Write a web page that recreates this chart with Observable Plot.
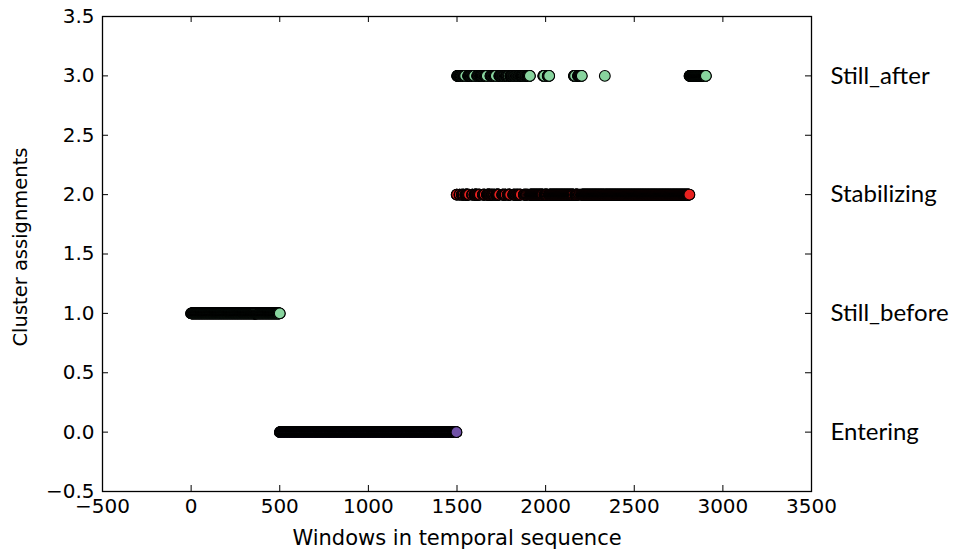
<!DOCTYPE html>
<html><head><meta charset="utf-8">
<script src="https://cdn.jsdelivr.net/npm/d3@7"></script>
<script src="https://cdn.jsdelivr.net/npm/@observablehq/plot@0.6"></script>
<style>body{margin:0;background:#fff}</style>
</head><body><div id="chart"></div>
<script>
// ---- data ----
const clusterIds = [0, 1, 2, 3];
const clusterNames = ["Entering", "Still_before", "Stabilizing", "Still_after"];
const xTicks = [-500, 0, 500, 1000, 1500, 2000, 2500, 3000, 3500];
const yTicks = [-0.5, 0, 0.5, 1, 1.5, 2, 2.5, 3, 3.5];
// run-length encoded cluster assignment per window: run i covers runStart[i] .. runStart[i+1]-1
const runStart = [0,501,1498,1501,1514,1517,1527,1531,1535,1539,1547,1563,1567,1569,1585,1589,1598,1614,1618,1622,1626,1630,1646,1650,1654,1658,1669,1689,1693,1697,1701,1705,1709,1713,1720,1739,1755,1759,1763,1767,1771,1776,1786,1790,1794,1801,1817,1821,1825,1829,1833,1837,1841,1845,1849,1853,1857,1861,1877,1881,1885,1889,1893,1897,1901,1902,1906,1907,1912,1987,1993,2012,2017,2018,2021,2160,2167,2183,2187,2188,2191,2192,2195,2196,2199,2200,2203,2204,2205,2334,2335,2812];
const runCluster = [1,0,2,3,2,3,2,3,2,3,2,3,2,3,2,3,2,3,2,3,2,3,2,3,2,3,2,3,2,3,2,3,2,3,2,3,2,3,2,3,2,3,2,3,2,3,2,3,2,3,2,3,2,3,2,3,2,3,2,3,2,3,2,3,2,3,2,3,2,3,2,3,2,3,2,3,2,3,2,3,2,3,2,3,2,3,2,3,2,3,2,3];
const lastWindow = 2904;

// ---- styling ----
const clusterFill = ["#7152a8", "#88d49e", "#e8211f", "#88d49e"];

// decode runs into one record per window
const points = [];
runStart.forEach((s, i) => {
  const e = i + 1 < runStart.length ? runStart[i + 1] - 1 : lastWindow;
  for (let w = s; w <= e; w++) points.push({w, c: runCluster[i]});
});

const W = 953, H = 555, mL = 102, mR = 142, mT = 16, mB = 64;
const innerW = W - mL - mR, innerH = H - mT - mB, tk = 6;
const labelFont = "Lato";
const axisFont = "DejaVu Sans";
const fmtX = d3.format("d"), fmtY = d3.format(".1f");

const chart = Plot.plot({
  width: W, height: H,
  marginLeft: mL, marginRight: mR, marginTop: mT, marginBottom: mB,
  style: {fontFamily: axisFont, fontSize: "20px", color: "#000", background: "#fff", overflow: "visible"},
  x: {domain: [-500, 3500], axis: null},
  y: {domain: [-0.5, 3.5], axis: null},
  marks: [
    ...clusterIds.map(k => Plot.dot(points.filter(p => p.c === k), {x: "w", y: "c", r: 5.4, fill: clusterFill[k], stroke: "#000", strokeWidth: 1.1})),
    Plot.frame({stroke: "#000", strokeWidth: 1.3}),
    Plot.tickX(xTicks, {x: d => d, stroke: "#000", insetTop: innerH - tk}),
    Plot.tickX(xTicks, {x: d => d, stroke: "#000", insetBottom: innerH - tk}),
    Plot.tickY(yTicks, {y: d => d, stroke: "#000", insetRight: innerW - tk}),
    Plot.tickY(yTicks, {y: d => d, stroke: "#000", insetLeft: innerW - tk}),
    Plot.text(xTicks, {x: d => d, text: d => fmtX(d), frameAnchor: "bottom", lineAnchor: "top", dy: 7, fontFamily: axisFont, fontSize: 20, fill: "#000"}),
    Plot.text(yTicks, {y: d => d, text: d => fmtY(d), frameAnchor: "left", textAnchor: "end", dx: -8, fontFamily: axisFont, fontSize: 20, fill: "#000"}),
    Plot.text(clusterIds, {y: d => d, text: d => clusterNames[d], frameAnchor: "right", dx: 19, textAnchor: "start", fontFamily: labelFont, fontSize: 24, fill: "#000"}),
    Plot.text(["Windows in temporal sequence"], {text: d => d, frameAnchor: "bottom", textAnchor: "middle", dy: 53, fontFamily: axisFont, fontSize: 21, fill: "#000"}),
    Plot.text(["Cluster assignments"], {text: d => d, frameAnchor: "left", textAnchor: "middle", dx: -82, dy: -7, rotate: -90, fontFamily: axisFont, fontSize: 19.5, fill: "#000"})
  ]
});
document.getElementById("chart").appendChild(chart);
</script>
</body></html>
